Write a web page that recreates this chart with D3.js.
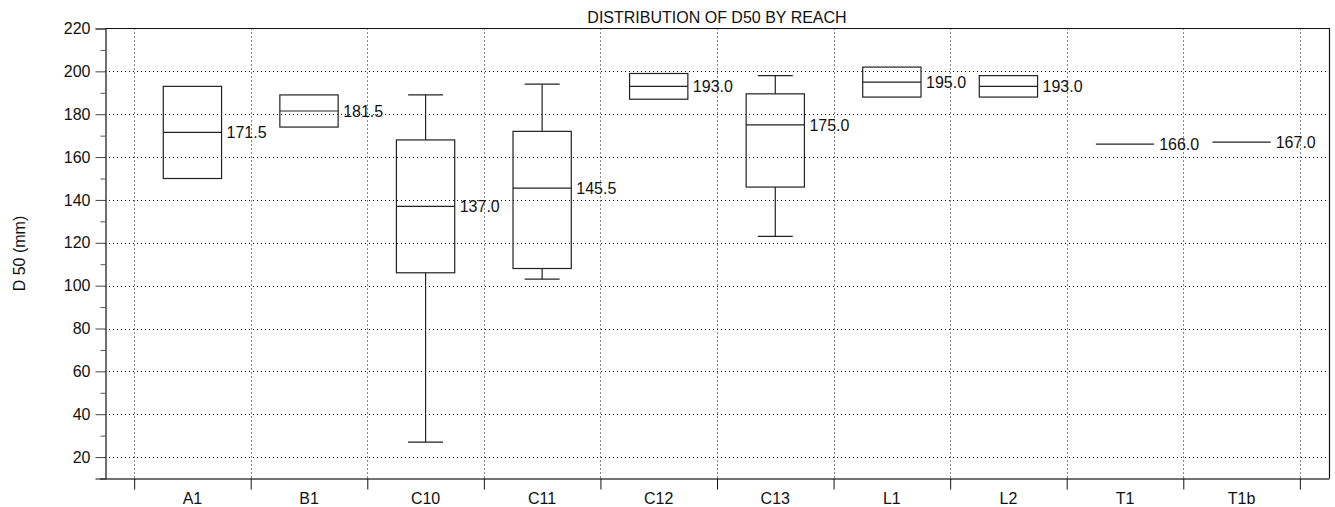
<!DOCTYPE html>
<html>
<head>
<meta charset="utf-8">
<script src="https://cdn.jsdelivr.net/npm/d3@7"></script>
<style>
  html, body { margin: 0; padding: 0; background: #fff; }
  svg { display: block; font-family: "Liberation Sans", Arial, Helvetica, sans-serif; }
</style>
</head>
<body>
<svg id="chart" width="1335" height="507"></svg>
<script>
// ---- data ----
const categories = ["A1", "B1", "C10", "C11", "C12", "C13", "L1", "L2", "T1", "T1b"];
const whiskerLow  = [150, 174, 27, 103, 187, 123, 188, 188, 166, 167];
const q1          = [150, 174, 106, 108, 187, 146, 188, 188, 166, 167];
const medians     = [171.5, 181.5, 137.0, 145.5, 193.0, 175.0, 195.0, 193.0, 166.0, 167.0];
const q3          = [193, 189, 168, 172, 199, 189.5, 202, 198, 166, 167];
const whiskerHigh = [193, 189, 189, 194, 199, 198, 202, 198, 166, 167];
const yMajorTicks = [20, 40, 60, 80, 100, 120, 140, 160, 180, 200, 220];
const yMinorTicks = [10, 30, 50, 70, 90, 110, 130, 150, 170, 190, 210];
const titleText = "DISTRIBUTION OF D50 BY REACH";
const yLabel = "D 50 (mm)";

// ---- layout ----
const W = 1335, H = 507;
const margin = { left: 105, right: 6, top: 28.5, bottom: 28.5 };
const svg = d3.select("#chart");
const plotW = W - margin.left - margin.right;
const plotH = H - margin.top - margin.bottom;
const FS = 16;

const x = d3.scaleLinear().domain([-0.25, categories.length + 0.25]).range([margin.left, margin.left + plotW]);
const y = d3.scaleLinear().domain([10, 220]).range([margin.top + plotH, margin.top]);

const ink = "#111";
const rows = categories.map((c, i) => ({
  c, i, lo: whiskerLow[i], q1: q1[i], med: medians[i], q3: q3[i], hi: whiskerHigh[i]
}));

// grid
const grid = svg.append("g").attr("stroke", ink).attr("stroke-width", 1).attr("stroke-dasharray", "1,3");
grid.selectAll("line.h").data(yMajorTicks.filter(v => v < 220)).join("line")
  .attr("x1", margin.left).attr("x2", margin.left + plotW)
  .attr("y1", d => Math.round(y(d)) + 0.5).attr("y2", d => Math.round(y(d)) + 0.5);
const bounds = d3.range(0, categories.length + 1);
grid.selectAll("line.v").data(bounds).join("line")
  .attr("x1", d => Math.round(x(d)) + 0.5).attr("x2", d => Math.round(x(d)) + 0.5)
  .attr("y1", margin.top).attr("y2", margin.top + plotH);

// frame top/right
svg.append("path")
  .attr("d", `M${margin.left},${margin.top} H${margin.left + plotW + 0.5} V${margin.top + plotH}`)
  .attr("fill", "none").attr("stroke", ink).attr("stroke-width", 1.2);

// y axis
const yAxisMajor = d3.axisLeft(y).tickValues(yMajorTicks).tickSize(10).tickPadding(5).tickFormat(d3.format("d"));
const gy = svg.append("g").attr("transform", `translate(${margin.left + 0.5},0)`).call(yAxisMajor);
gy.select(".domain").attr("stroke", ink).attr("stroke-width", 1.2);
gy.selectAll(".tick line").attr("stroke", "#444");
gy.selectAll(".tick text").attr("font-size", FS).attr("fill", ink)
  .attr("font-family", "Liberation Sans, Arial, sans-serif");
const yAxisMinor = d3.axisLeft(y).tickValues(yMinorTicks).tickSize(5).tickFormat("");
const gym = svg.append("g").attr("transform", `translate(${margin.left + 0.5},0)`).call(yAxisMinor);
gym.select(".domain").remove();
gym.selectAll(".tick line").attr("stroke", "#555");

// x axis (boundary ticks)
const xAxis = d3.axisBottom(x).tickValues(bounds).tickSize(11).tickFormat("");
const gx = svg.append("g").attr("transform", `translate(0,${margin.top + plotH})`).call(xAxis);
gx.select(".domain").attr("d", `M${margin.left - 5},0.5H${margin.left + plotW + 0.5}`).attr("stroke", "#444").attr("stroke-width", 1.5);
gx.selectAll(".tick line").attr("stroke", ink);
svg.append("g").selectAll("text").data(categories).join("text")
  .attr("x", (d, i) => x(i + 0.5)).attr("y", margin.top + plotH + 25.5)
  .attr("text-anchor", "middle").attr("font-size", FS).attr("fill", ink).text(d => d);

// boxes
const boxHalf = 0.25, capHalf = 0.15;
const gb = svg.append("g").attr("stroke", "#222").attr("stroke-width", 1.2).attr("fill", "none");
rows.forEach(r => {
  const cx = x(r.i + 0.5);
  const g = gb.append("g");
  if (r.hi > r.q3) {
    g.append("line").attr("x1", cx).attr("x2", cx).attr("y1", y(r.q3)).attr("y2", y(r.hi));
    g.append("line").attr("x1", x(r.i + 0.5 - capHalf)).attr("x2", x(r.i + 0.5 + capHalf)).attr("y1", y(r.hi)).attr("y2", y(r.hi));
  }
  if (r.lo < r.q1) {
    g.append("line").attr("x1", cx).attr("x2", cx).attr("y1", y(r.q1)).attr("y2", y(r.lo));
    g.append("line").attr("x1", x(r.i + 0.5 - capHalf)).attr("x2", x(r.i + 0.5 + capHalf)).attr("y1", y(r.lo)).attr("y2", y(r.lo));
  }
  if (r.q3 > r.q1) {
    g.append("rect").attr("x", x(r.i + 0.5 - boxHalf)).attr("y", y(r.q3))
      .attr("width", x(r.i + 0.5 + boxHalf) - x(r.i + 0.5 - boxHalf))
      .attr("height", y(r.q1) - y(r.q3)).attr("fill", "none");
  }
  g.append("line").attr("x1", x(r.i + 0.5 - boxHalf)).attr("x2", x(r.i + 0.5 + boxHalf))
    .attr("y1", y(r.med)).attr("y2", y(r.med));
  svg.append("text").attr("x", x(r.i + 0.5 + boxHalf) + 5).attr("y", y(r.med))
    .attr("dy", "0.36em").attr("font-size", FS).attr("fill", ink).text(d3.format(".1f")(r.med));
});

// title
svg.append("text").attr("x", margin.left + plotW / 2).attr("y", 23)
  .attr("text-anchor", "middle").attr("font-size", FS).attr("fill", ink).text(titleText);

// y label
svg.append("text").attr("transform", `translate(25,${margin.top + plotH / 2}) rotate(-90)`)
  .attr("text-anchor", "middle").attr("font-size", FS).attr("fill", ink).text(yLabel);
</script>
</body>
</html>
